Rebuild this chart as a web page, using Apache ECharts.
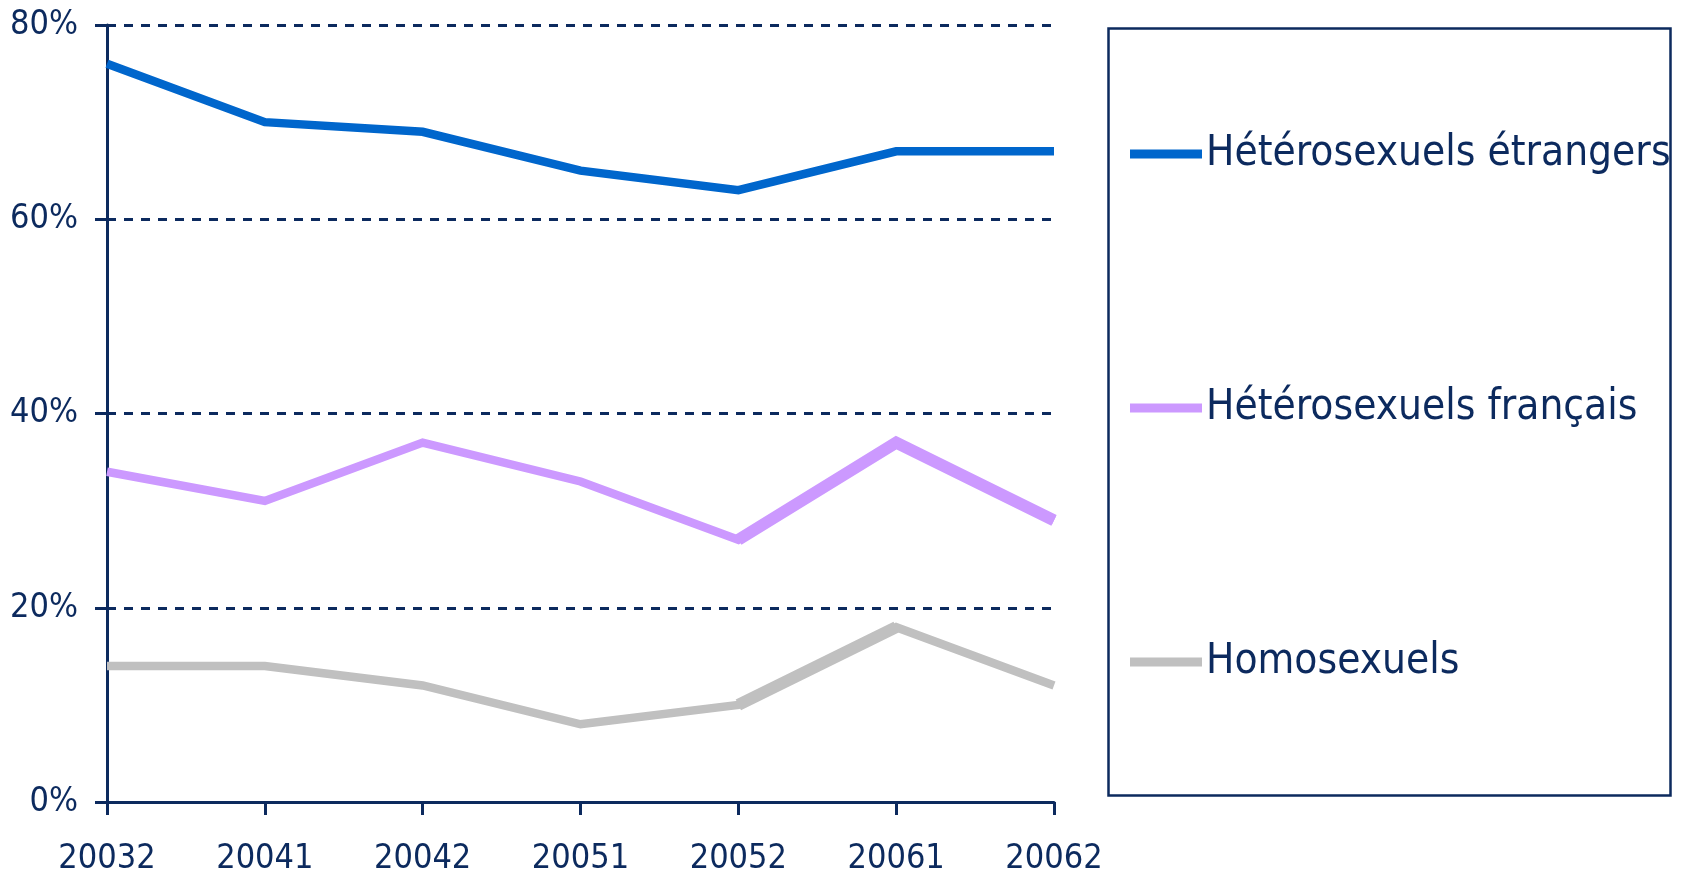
<!DOCTYPE html>
<html lang="fr">
<head>
    <meta charset="UTF-8">
    <title>Hétérosexuels / Homosexuels</title>
    <script src="https://cdn.jsdelivr.net/npm/echarts@6/dist/echarts.min.js"></script>
    <style type="text/css">
        html, body { margin: 0; padding: 0; background: #ffffff; }
        #chart { width: 1688px; height: 876px; }
    </style>
</head>
<body>
<div id="chart"></div>
<script>
    // données
    var periodes = ['20032', '20041', '20042', '20051', '20052', '20061', '20062'];
    var heteroEtrangers = [76, 70, 69, 65, 63, 67, 67];
    var heteroFrancais = [34, 31, 37, 33, 27, 37, 29];
    var homosexuels = [14, 14, 12, 8, 10, 18, 12];
    var yTicks = [0, 20, 40, 60, 80];

    var navy = '#0c2a5e';
    var police = '"Liberation Sans Narrow", "DejaVu Sans Condensed", sans-serif';

    var myChart = echarts.init(document.getElementById('chart'));

    function serie(nom, data, couleur) {
        return {
            name: nom,
            type: 'line',
            data: data,
            symbol: 'none',
            lineStyle: { color: couleur, width: 8.5, join: 'miter' },
            itemStyle: { color: couleur }
        };
    }

    // segments tracés plus épais dans l'original (de debut à fin inclus)
    function segmentEpais(nom, data, couleur, debut, fin) {
        return {
            name: nom,
            type: 'line',
            data: data.map(function (v, i) { return (i >= debut && i <= fin) ? v : null; }),
            symbol: 'none',
            connectNulls: false,
            lineStyle: { color: couleur, width: 12, join: 'miter' },
            itemStyle: { color: couleur },
            silent: true
        };
    }

    var option = {
        animation: false,
        grid: { left: 107, right: 634, top: 25, bottom: 74 },
        xAxis: {
            type: 'category',
            data: periodes,
            boundaryGap: false,
            axisLine: { lineStyle: { color: navy, width: 3 } },
            axisTick: { show: true, length: 13, alignWithLabel: true, lineStyle: { color: navy, width: 3 } },
            axisLabel: { color: navy, fontSize: 34, fontFamily: police, margin: 40 },
            splitLine: { show: false }
        },
        yAxis: {
            type: 'value',
            min: yTicks[0],
            max: yTicks[yTicks.length - 1],
            interval: 20,
            axisLine: { show: true, lineStyle: { color: navy, width: 3 } },
            axisTick: { show: true, length: 12, lineStyle: { color: navy, width: 3 } },
            axisLabel: { color: navy, fontSize: 34, fontFamily: police, margin: 29, formatter: '{value}%' },
            splitLine: { show: true, lineStyle: { color: navy, width: 3, type: [9, 8] } }
        },
        legend: {
            orient: 'vertical',
            left: 1130,
            top: 129,
            padding: 0,
            itemWidth: 72,
            itemHeight: 9,
            itemGap: 204,
            icon: 'rect',
            textStyle: { color: navy, fontSize: 42, fontFamily: police, lineHeight: 50, padding: [0, 0, 0, -1] },
            data: ['Hétérosexuels étrangers', 'Hétérosexuels français', 'Homosexuels']
        },
        graphic: [{
            type: 'rect',
            left: 1106,
            top: 26,
            shape: { width: 562, height: 767 },
            style: { fill: 'none', stroke: navy, lineWidth: 2.5 },
            z: 100
        }],
        series: [
            serie('Hétérosexuels étrangers', heteroEtrangers, '#0066cc'),
            serie('Hétérosexuels français', heteroFrancais, '#cc99ff'),
            serie('Homosexuels', homosexuels, '#c0c0c0'),
            segmentEpais('Hétérosexuels français', heteroFrancais, '#cc99ff', 4, 6),
            segmentEpais('Homosexuels', homosexuels, '#c0c0c0', 4, 5)
        ]
    };

    myChart.setOption(option);
</script>
</body>
</html>
